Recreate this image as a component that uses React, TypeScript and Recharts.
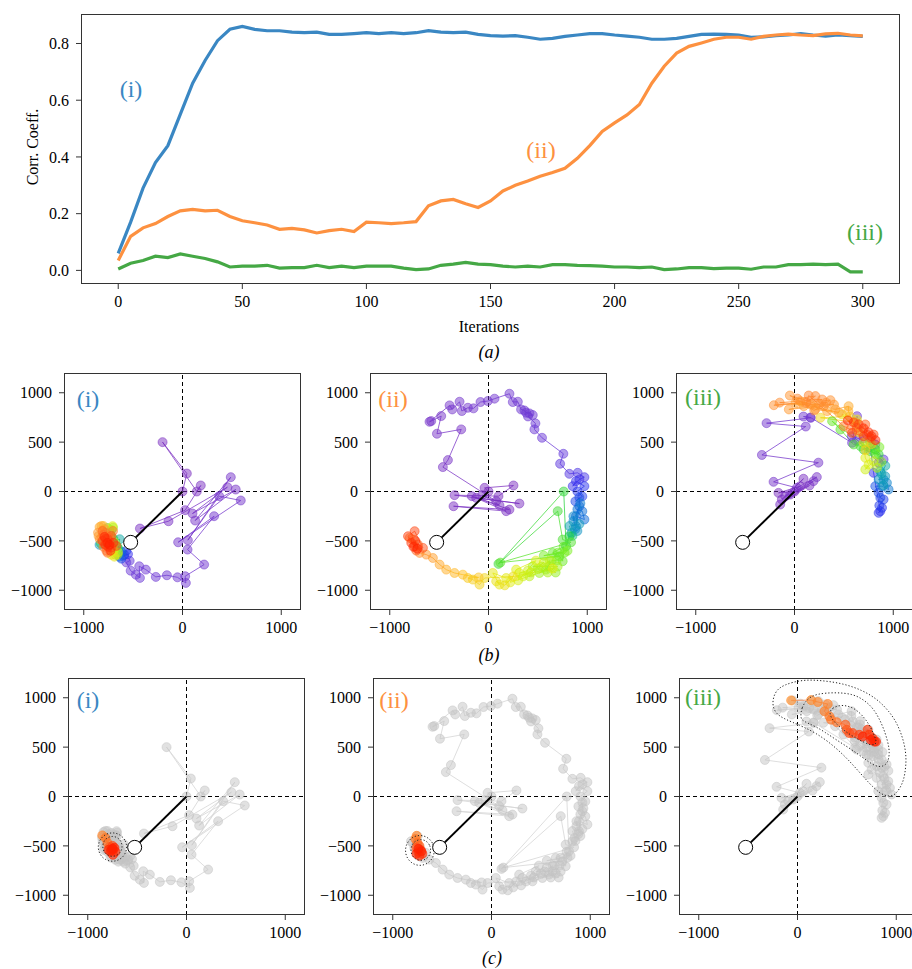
import React from "react";
import {
  Line,
  LineChart,
  ReferenceLine,
  Scatter,
  ScatterChart,
  XAxis,
  YAxis,
} from "recharts";

const SERIF = '"Liberation Serif", "Times New Roman", "DejaVu Serif", serif';
const BLUE = "#3a87c3";
const ORANGE = "#fd9140";
const GREEN = "#45a845";
const GREY = "#c4c4c4";

// (a) correlation coefficient vs iterations, sampled every 5 iterations
const ITERS = [
  0, 5, 10, 15, 20, 25, 30, 35, 40, 45, 50, 55, 60, 65, 70, 75, 80, 85, 90, 95,
  100, 105, 110, 115, 120, 125, 130, 135, 140, 145, 150, 155, 160, 165, 170, 175,
  180, 185, 190, 195, 200, 205, 210, 215, 220, 225, 230, 235, 240, 245, 250, 255,
  260, 265, 270, 275, 280, 285, 290, 295, 300,
];
const CORR_I = [
  0.06, 0.17, 0.29, 0.38, 0.44, 0.55, 0.66, 0.74, 0.81, 0.85, 0.86, 0.85, 0.845,
  0.845, 0.84, 0.838, 0.84, 0.832, 0.832, 0.835, 0.838, 0.835, 0.838, 0.835, 0.838,
  0.845, 0.84, 0.838, 0.84, 0.832, 0.828, 0.826, 0.828, 0.822, 0.815, 0.818, 0.825,
  0.83, 0.835, 0.835, 0.83, 0.826, 0.822, 0.815, 0.815, 0.818, 0.825, 0.832, 0.833,
  0.832, 0.83, 0.822, 0.823, 0.828, 0.83, 0.835, 0.83, 0.826, 0.83, 0.828, 0.825,
];
const CORR_II = [
  0.035, 0.12, 0.15, 0.165, 0.19, 0.21, 0.215, 0.21, 0.212, 0.19, 0.175, 0.168,
  0.16, 0.145, 0.148, 0.143, 0.132, 0.14, 0.145, 0.137, 0.17, 0.168, 0.165, 0.168,
  0.172, 0.228, 0.245, 0.25, 0.235, 0.222, 0.245, 0.28, 0.3, 0.315, 0.332, 0.345,
  0.36, 0.395, 0.44, 0.49, 0.52, 0.548, 0.585, 0.66, 0.72, 0.766, 0.79, 0.802, 0.815,
  0.822, 0.822, 0.815, 0.825, 0.83, 0.833, 0.83, 0.828, 0.834, 0.836, 0.83, 0.827,
];
const CORR_III = [
  0.005, 0.025, 0.035, 0.05, 0.045, 0.058, 0.05, 0.042, 0.03, 0.012, 0.015, 0.015,
  0.018, 0.008, 0.01, 0.01, 0.018, 0.01, 0.015, 0.01, 0.015, 0.015, 0.015, 0.008,
  0.003, 0.005, 0.018, 0.022, 0.028, 0.022, 0.02, 0.015, 0.012, 0.015, 0.012, 0.02,
  0.02, 0.018, 0.017, 0.015, 0.012, 0.012, 0.01, 0.012, 0.003, 0.005, 0.01, 0.01,
  0.006, 0.008, 0.008, 0.004, 0.012, 0.012, 0.02, 0.02, 0.022, 0.02, 0.022, -0.005,
  -0.005,
];
const X_TICKS_A = [0, 50, 100, 150, 200, 250, 300];
const Y_TICKS_A = [0, 0.2, 0.4, 0.6, 0.8];

// (b)/(c) trajectories: [x, y, iteration]
const TRAJ_I = [
  [0, 0, 0], [44, 182, 2], [-202, 500, 4], [145, 0, 6], [185, 61, 8],
  [27, -189, 10], [-431, -375, 12], [-142, -301, 14], [455, 44, 16],
  [101, -223, 18], [539, 20, 20], [128, -294, 22], [489, 145, 24],
  [54, -493, 26], [371, -47, 28], [590, -91, 30], [-44, -514, 32],
  [320, -250, 34], [51, -588, 36], [219, -740, 38], [27, -858, 40],
  [34, -926, 42], [-51, -869, 44], [-158, -848, 46], [-270, -865, 48],
  [-371, -791, 50], [-438, -757, 52], [-431, -875, 54], [-472, -842, 56],
  [-525, -802, 58], [-569, -718, 60], [-535, -702, 62],
  [-552, -634, 76], [-603, -651, 80], [-569, -601, 84], [-590, -640, 88],
  [-620, -680, 90], [-640, -660, 100], [-620, -610, 104], [-840, -540, 120],
  [-636, -483, 130], [-650, -580, 140], [-826, -527, 145], [-700, -480, 150],
  [-660, -560, 155], [-760, -370, 160], [-720, -390, 170], [-704, -366, 175],
  [-657, -639, 180], [-680, -640, 183], [-680, -520, 186], [-653, -617, 190],
  [-708, -351, 195], [-700, -600, 196], [-690, -660, 200], [-720, -640, 202],
  [-800, -350, 220], [-821, -349, 225], [-840, -360, 228], [-788, -383, 230],
  [-850, -450, 232], [-855, -416, 235], [-820, -470, 236], [-838, -483, 240],
  [-780, -420, 242], [-740, -470, 244], [-754, -450, 245], [-800, -560, 248],
  [-704, -400, 250], [-760, -620, 252], [-800, -440, 255], [-770, -600, 258],
  [-810, -400, 260], [-788, -534, 262], [-737, -517, 266], [-720, -450, 268],
  [-720, -567, 270], [-670, -551, 274], [-780, -480, 276], [-760, -480, 278],
  [-810, -500, 282], [-750, -560, 285], [-780, -540, 288], [-730, -600, 291],
  [-700, -520, 294], [-790, -460, 296], [-760, -520, 298], [-740, -540, 300],
];
const TRAJ_II = [
  [0, 0, 0], [-40, 37, 1], [253, 61, 2], [101, -47, 3], [-344, -37, 4],
  [313, -122, 5], [-125, -64, 6], [212, -183, 7], [-354, -149, 8],
  [179, -199, 9], [-169, -47, 10], [111, -139, 11], [-64, -37, 12],
  [78, -98, 13], [-462, 247, 15], [-411, 318, 16], [-276, 629, 18],
  [-522, 585, 20], [-479, 764, 22], [-580, 713, 24], [-597, 706, 25],
  [-394, 872, 27], [-367, 831, 28], [-293, 909, 30], [-270, 815, 31],
  [-209, 848, 33], [-152, 842, 34], [-81, 906, 36], [-7, 916, 37],
  [61, 940, 39], [212, 990, 41], [246, 906, 43], [297, 909, 44],
  [330, 831, 46], [364, 821, 47], [381, 798, 48], [415, 791, 49],
  [448, 774, 50], [400, 760, 51], [475, 690, 53], [465, 629, 55],
  [542, 544, 57], [758, 382, 62], [725, 281, 64], [819, 179, 67],
  [903, 189, 69], [971, 145, 71], [920, 122, 72], [853, 54, 74],
  [886, 105, 76], [971, 54, 80], [900, 0, 82], [950, -50, 85],
  [880, -100, 88], [920, -60, 90], [920, -149, 95], [886, -250, 100],
  [971, -284, 103], [950, -200, 105], [900, -180, 106], [886, -351, 108],
  [930, -120, 110], [860, -300, 112], [860, -250, 114], [880, -380, 116],
  [900, -400, 118], [840, -420, 120], [920, -330, 122], [820, -350, 124],
  [850, -450, 140], [819, -453, 150], [785, -554, 152], [762, 0, 155],
  [101, -733, 157], [701, -199, 159], [751, -487, 161], [836, -514, 163],
  [120, -720, 165], [718, -656, 166], [650, -622, 167], [760, -560, 168],
  [751, -706, 169], [700, -620, 170], [770, -620, 171], [560, -650, 172],
  [800, -600, 173], [690, -700, 174], [640, -700, 176], [583, -791, 177],
  [680, -820, 178], [620, -760, 179], [516, -825, 180], [700, -760, 181],
  [448, -757, 182], [540, -760, 183], [600, -820, 184], [620, -700, 185],
  [500, -780, 186], [415, -859, 187], [430, -820, 188], [560, -720, 189],
  [350, -860, 190], [400, -800, 191], [313, -825, 192], [300, -900, 193],
  [480, -700, 194], [280, -791, 195], [220, -920, 196], [650, -780, 197],
  [179, -876, 198], [44, -825, 199], [111, -943, 200], [78, -909, 201],
  [165, -950, 202], [250, -860, 203], [-40, -876, 206], [-91, -943, 208],
  [-158, -892, 210], [-209, -876, 212], [-100, -870, 214], [-260, -842, 216],
  [-344, -825, 220], [-428, -791, 224], [-495, -740, 228], [-563, -673, 232],
  [-630, -639, 236], [-698, -622, 240], [-799, -470, 245], [-748, -554, 250],
  [-765, -487, 255], [-715, -537, 260], [-731, -598, 265], [-664, -571, 270],
  [-748, -402, 275], [-815, -453, 280], [-782, -520, 285], [-740, -500, 290],
  [-760, -560, 295], [-720, -580, 300],
];
const TRAJ_III = [
  [0, 0, 0], [-162, -14, 2], [57, 54, 4], [-128, -81, 6], [91, 129, 8],
  [-94, -47, 10], [152, 61, 12], [-145, -132, 14], [192, 105, 16],
  [-44, -31, 18], [226, 146, 20], [24, 37, 22], [-212, 98, 24],
  [242, 292, 27], [-330, 370, 30], [114, 658, 33], [-283, 692, 36],
  [165, 746, 39], [91, 759, 41], [162, 750, 43], [583, 493, 47],
  [633, 763, 50], [700, 540, 53], [818, 476, 56], [580, 560, 58],
  [640, 520, 60], [852, 291, 59], [902, 324, 62], [760, 520, 65],
  [801, 189, 75], [869, -199, 78], [852, -216, 80], [886, -165, 82],
  [859, -142, 84], [902, -81, 86], [869, -64, 88], [852, -13, 90],
  [818, 54, 93], [886, 54, 105], [953, 20, 108], [936, 88, 112],
  [902, 122, 115], [852, 122, 118], [919, 155, 121], [900, 60, 125],
  [869, 206, 124], [880, 180, 128], [920, 260, 130], [818, 425, 150],
  [768, 408, 152], [852, 375, 154], [700, 425, 156], [768, 459, 158],
  [667, 459, 160], [599, 476, 162], [465, 628, 165], [381, 712, 168],
  [820, 380, 170], [860, 450, 172], [760, 500, 175], [880, 300, 178],
  [835, 240, 185], [801, 307, 188], [717, 223, 191], [751, 273, 194],
  [717, 341, 196], [700, 493, 198], [633, 729, 200], [650, 600, 202],
  [481, 780, 203], [560, 760, 205], [263, 747, 206], [620, 700, 208],
  [780, 480, 210], [720, 420, 212], [545, 814, 225], [548, 864, 227],
  [414, 831, 229], [330, 814, 231], [61, 915, 232], [212, 831, 233],
  [450, 800, 234], [10, 898, 234], [94, 864, 235], [-57, 831, 236],
  [400, 880, 236], [162, 881, 237], [250, 880, 238], [-47, 972, 238],
  [200, 820, 239], [364, 925, 239], [-209, 874, 240], [320, 900, 240],
  [296, 864, 241], [-150, 900, 242], [280, 932, 243], [30, 940, 244],
  [212, 966, 245], [120, 900, 246], [144, 972, 247], [498, 662, 250],
  [566, 628, 253], [633, 645, 256], [667, 611, 259], [717, 679, 262],
  [734, 577, 265], [768, 544, 268], [801, 577, 271], [700, 560, 274],
  [583, 594, 277], [600, 700, 280], [650, 680, 283], [700, 640, 286],
  [750, 600, 289], [780, 560, 292], [820, 520, 295], [540, 720, 298],
];

// (c) highlighted final iterations
const HIGH_I = [
  [-853, -394, 245], [-820, -420, 250], [-800, -470, 255], [-780, -510, 262],
  [-760, -520, 270], [-750, -500, 275], [-740, -540, 280], [-770, -560, 284],
  [-720, -560, 288], [-745, -590, 292], [-790, -540, 294], [-730, -520, 296],
  [-760, -545, 298], [-750, -530, 300],
];
const HIGH_II = [
  [-758, -398, 245], [-770, -430, 250], [-750, -470, 256], [-730, -500, 262],
  [-760, -520, 268], [-720, -540, 274], [-740, -560, 280], [-700, -580, 285],
  [-730, -600, 290], [-760, -580, 294], [-710, -555, 298], [-740, -530, 300],
];
const HIGH_III = [
  [-64, 973, 240], [138, 976, 242], [205, 957, 244], [306, 937, 246],
  [273, 863, 248], [323, 812, 250], [340, 778, 252], [397, 753, 254],
  [485, 727, 262], [498, 676, 266], [525, 642, 270], [559, 642, 274],
  [626, 625, 278], [710, 676, 282], [727, 625, 286], [761, 589, 290],
  [778, 556, 293], [795, 556, 296], [660, 607, 298], [744, 573, 300],
];

// density contours (dotted, closed)
const CONT_I = [
  [[-600, -512], [-620, -437], [-675, -382], [-750, -362], [-825, -382], [-880, -437], [-900, -512], [-880, -587], [-825, -642], [-750, -662], [-675, -642], [-620, -587]],
  [[-648, -505], [-662, -452], [-699, -414], [-750, -400], [-801, -414], [-838, -452], [-852, -505], [-838, -558], [-801, -596], [-750, -610], [-699, -596], [-662, -558]],
];
const CONT_II = [
  [[-573, -546], [-593, -467], [-649, -409], [-725, -388], [-801, -409], [-857, -467], [-877, -546], [-857, -625], [-801, -683], [-725, -704], [-649, -683], [-593, -625]],
  [[-612, -542], [-626, -487], [-663, -447], [-716, -432], [-769, -447], [-806, -487], [-820, -542], [-806, -597], [-769, -637], [-716, -652], [-663, -637], [-626, -597]],
];
const CONT_III = [
  [[-260, 935], [-230, 1060], [-148, 1130], [54, 1185], [250, 1175], [458, 1145], [650, 1080], [810, 985], [930, 860], [1010, 740], [1075, 570], [1105, 400], [1090, 230], [1060, 120], [1000, 30], [950, 0], [880, 10], [828, 40], [760, 100], [694, 170], [580, 300], [458, 430], [320, 550], [189, 640], [60, 705], [-47, 750], [-140, 790], [-220, 840]],
  [[30, 800], [40, 900], [100, 990], [189, 1040], [380, 1055], [559, 1040], [680, 975], [780, 880], [862, 720], [915, 560], [935, 440], [915, 340], [860, 300], [795, 305], [720, 350], [626, 420], [510, 500], [391, 575], [280, 650], [189, 705], [100, 745], [50, 770]],
  [[320, 850], [350, 895], [424, 925], [500, 920], [580, 890], [660, 820], [725, 730], [770, 640], [800, 560], [790, 525], [740, 520], [680, 545], [593, 590], [520, 635], [458, 680], [400, 730], [350, 780]],
];
const TARGET = [-525, -515];
const PANEL_TICKS = [-1000, 0, 1000];
const PANEL_YTICKS = [-1000, -500, 0, 500, 1000];

const STOPS: [number, string][] = [
  [0, "#7d2fbf"], [0.2, "#6a3ad8"], [0.26, "#2f2ff0"], [0.33, "#1060e0"],
  [0.4, "#1098c0"], [0.46, "#10b890"], [0.5, "#20d040"], [0.58, "#80f020"],
  [0.65, "#e0f010"], [0.72, "#ffc020"], [0.8, "#ff9030"], [0.9, "#ff5018"],
  [1, "#ff2000"],
];

function colorAt(t: number) {
  for (let i = 1; i < STOPS.length; i++) {
    const [t1, c1] = STOPS[i];
    const [t0, c0] = STOPS[i - 1];
    if (t <= t1) {
      const f = (t - t0) / (t1 - t0);
      const a = parseInt(c0.slice(1), 16);
      const b = parseInt(c1.slice(1), 16);
      const ch = (s: number) =>
        Math.round(((a >> s) & 255) * (1 - f) + ((b >> s) & 255) * f);
      return `rgb(${ch(16)},${ch(8)},${ch(0)})`;
    }
  }
  return STOPS[STOPS.length - 1][1];
}

const fmt = (v: number) => (v < 0 ? `\u2212${Math.abs(v)}` : `${v}`);
const tickStyle = { fontSize: 16, fill: "#000", fontFamily: SERIF };
const none = () => <g />;

function dotShape(r: number, op: number) {
  return (p: any) => (
    <circle
      cx={p.cx}
      cy={p.cy}
      r={r}
      fill={p.payload.col}
      fillOpacity={op}
      stroke={p.payload.col}
      strokeOpacity={op}
      strokeWidth={1}
    />
  );
}

const endShape = (p: any) =>
  p.payload.end ? (
    <circle cx={p.cx} cy={p.cy} r={7} fill="#fff" stroke="#000" strokeWidth={1} />
  ) : (
    <g />
  );

type Pt = number[];

function Panel({
  left,
  top,
  traj,
  high,
  contours,
  label,
  labelColor,
  lx,
  ly,
}: {
  left: number;
  top: number;
  traj: Pt[];
  high?: Pt[];
  contours?: Pt[][];
  label: string;
  labelColor: string;
  lx: number;
  ly: number;
}) {
  const PW = 237;
  const YW = 62;
  const MT = 6;
  const XH = 32;
  const gray = !!high;
  const pts = traj.map(([x, y, it]) => ({
    x,
    y,
    col: gray ? GREY : colorAt(it / 300),
  }));
  const segs: (typeof pts)[] = [];
  if (!gray) {
    for (let i = 0; i < pts.length - 1; i += 2) segs.push(pts.slice(i, i + 3));
  }
  const hp = (high || []).map(([x, y, it]) => ({ x, y, col: colorAt(it / 300) }));
  const arm = [
    { x: 0, y: 0 },
    { x: TARGET[0], y: TARGET[1], end: true },
  ];

  return (
    <div style={{ position: "absolute", left: left - YW, top: top - MT }}>
      <ScatterChart
        width={YW + PW + 6}
        height={MT + PW + XH}
        margin={{ top: MT, right: 6, bottom: 0, left: 0 }}
      >
        <XAxis
          type="number"
          dataKey="x"
          domain={[-1200, 1200]}
          ticks={PANEL_TICKS}
          tickFormatter={fmt}
          height={XH}
          axisLine={false}
          tickSize={5}
          tickMargin={7}
          tickLine={{ stroke: "#333" }}
          tick={tickStyle}
          allowDataOverflow
        />
        <YAxis
          type="number"
          dataKey="y"
          domain={[-1200, 1200]}
          ticks={PANEL_YTICKS}
          tickFormatter={fmt}
          width={YW}
          axisLine={false}
          tickSize={5}
          tickMargin={7}
          tickLine={{ stroke: "#333" }}
          tick={tickStyle}
          allowDataOverflow
        />
        <ReferenceLine x={0} stroke="#000" strokeDasharray="4 3" strokeWidth={1} />
        <ReferenceLine y={0} stroke="#000" strokeDasharray="4 3" strokeWidth={1} />
        {gray ? (
          <Scatter
            data={pts}
            line={{ stroke: "#d6d6d6", strokeWidth: 1, strokeOpacity: 0.8 }}
            shape={none}
            isAnimationActive={false}
          />
        ) : (
          segs.map((s, i) => (
            <Scatter
              key={`s${i}`}
              data={s}
              line={{ stroke: s[1].col, strokeWidth: 1, strokeOpacity: 0.75 }}
              shape={none}
              isAnimationActive={false}
            />
          ))
        )}
        <Scatter data={pts} shape={dotShape(4.5, 0.5)} isAnimationActive={false} />
        {hp.length > 0 && (
          <Scatter
            data={hp}
            line={{ stroke: "#f4844a", strokeWidth: 1, strokeOpacity: 0.8 }}
            shape={dotShape(4.5, 0.65)}
            isAnimationActive={false}
          />
        )}
        {(contours || []).map((c, i) => (
          <Scatter
            key={`c${i}`}
            data={c.map(([x, y]) => ({ x, y }))}
            line={{ stroke: "#222", strokeWidth: 1, strokeDasharray: "1.2 2" }}
            lineJointType="basisClosed"
            shape={none}
            isAnimationActive={false}
          />
        ))}
        <Scatter
          data={arm}
          line={{ stroke: "#000", strokeWidth: 2 }}
          shape={endShape}
          isAnimationActive={false}
        />
      </ScatterChart>
      <div
        style={{
          position: "absolute",
          left: YW,
          top: MT,
          width: PW,
          height: PW,
          border: "1px solid #333",
          boxSizing: "border-box",
          pointerEvents: "none",
        }}
      />
      <div
        style={{
          position: "absolute",
          left: YW + lx,
          top: MT + ly,
          transform: "translate(-50%, -50%)",
          color: labelColor,
          fontSize: 24,
          fontFamily: SERIF,
          whiteSpace: "nowrap",
        }}
      >
        {label}
      </div>
    </div>
  );
}

function Caption({ x, y, children, size = 18, italic = false }: any) {
  return (
    <div
      style={{
        position: "absolute",
        left: x,
        top: y,
        transform: "translate(-50%, -50%)",
        fontSize: size,
        fontFamily: SERIF,
        fontStyle: italic ? "italic" : "normal",
        whiteSpace: "nowrap",
      }}
    >
      {children}
    </div>
  );
}

export default function App() {
  const corr = ITERS.map((it, i) => ({
    it,
    a: CORR_I[i],
    b: CORR_II[i],
    c: CORR_III[i],
  }));

  return (
    <div
      style={{
        position: "absolute",
        left: 0,
        top: 0,
        width: 912,
        height: 969,
        overflow: "hidden",
        background: "#fff",
        fontFamily: SERIF,
      }}
    >
      <div style={{ position: "absolute", left: 0, top: 0 }}>
        <LineChart
          width={912}
          height={316}
          data={corr}
          margin={{ top: 14, right: 12, bottom: 0, left: 0 }}
        >
          <XAxis
            type="number"
            dataKey="it"
            domain={[-15, 315]}
            ticks={X_TICKS_A}
            height={32}
            axisLine={false}
            tickSize={5}
            tickMargin={7}
            tickLine={{ stroke: "#333" }}
            tick={tickStyle}
            allowDataOverflow
          />
          <YAxis
            type="number"
            domain={[-0.048, 0.904]}
            ticks={Y_TICKS_A}
            tickFormatter={(v: number) => v.toFixed(1)}
            width={81}
            axisLine={false}
            tickSize={5}
            tickMargin={7}
            tickLine={{ stroke: "#333" }}
            tick={tickStyle}
            allowDataOverflow
          />
          <Line dataKey="a" stroke={BLUE} strokeWidth={3.2} dot={false} type="linear" isAnimationActive={false} />
          <Line dataKey="b" stroke={ORANGE} strokeWidth={3.2} dot={false} type="linear" isAnimationActive={false} />
          <Line dataKey="c" stroke={GREEN} strokeWidth={3.2} dot={false} type="linear" isAnimationActive={false} />
        </LineChart>
        <div
          style={{
            position: "absolute",
            left: 81,
            top: 14,
            width: 819,
            height: 270,
            border: "1px solid #333",
            boxSizing: "border-box",
            pointerEvents: "none",
          }}
        />
      </div>
      <div
        style={{
          position: "absolute",
          left: 33,
          top: 147,
          transform: "translate(-50%, -50%) rotate(-90deg)",
          fontSize: 16,
          whiteSpace: "nowrap",
        }}
      >
        Corr. Coeff.
      </div>
      <Caption x={131} y={89} size={24}>
        <span style={{ color: BLUE }}>(i)</span>
      </Caption>
      <Caption x={541} y={150} size={24}>
        <span style={{ color: ORANGE }}>(ii)</span>
      </Caption>
      <Caption x={865} y={232} size={24}>
        <span style={{ color: GREEN }}>(iii)</span>
      </Caption>
      <Caption x={489} y={327} size={16}>Iterations</Caption>
      <Caption x={489} y={352} italic>(a)</Caption>

      <Panel left={64} top={373} traj={TRAJ_I} label="(i)" labelColor={BLUE} lx={24} ly={26} />
      <Panel left={370} top={373} traj={TRAJ_II} label="(ii)" labelColor={ORANGE} lx={23} ly={26} />
      <Panel left={676} top={373} traj={TRAJ_III} label="(iii)" labelColor={GREEN} lx={27} ly={24} />
      <Caption x={489} y={655} italic>(b)</Caption>

      <Panel left={68} top={678} traj={TRAJ_I} high={HIGH_I} contours={CONT_I} label="(i)" labelColor={BLUE} lx={20} ly={22} />
      <Panel left={373} top={678} traj={TRAJ_II} high={HIGH_II} contours={CONT_II} label="(ii)" labelColor={ORANGE} lx={21} ly={22} />
      <Panel left={679} top={678} traj={TRAJ_III} high={HIGH_III} contours={CONT_III} label="(iii)" labelColor={GREEN} lx={24} ly={19} />
      <Caption x={492} y={958} italic>(c)</Caption>
    </div>
  );
}
